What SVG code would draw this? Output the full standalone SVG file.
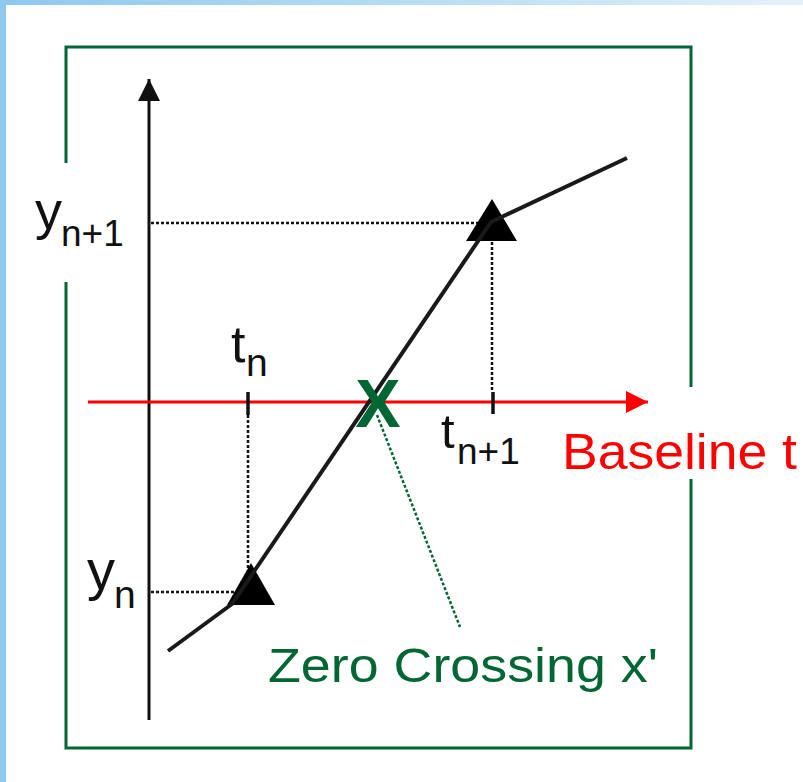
<svg xmlns="http://www.w3.org/2000/svg" width="803" height="782" viewBox="0 0 803 782">
<defs>
<linearGradient id="bg" x1="0" y1="0" x2="1" y2="0">
<stop offset="0" stop-color="#8ec8ee"/><stop offset="0.5" stop-color="#b5dcf4"/><stop offset="1" stop-color="#e4f1fa"/>
</linearGradient>
<marker id="ah" markerUnits="userSpaceOnUse" viewBox="0 0 22 22" refX="22" refY="11" markerWidth="22" markerHeight="22" orient="auto"><path d="M0,0 L22,11 L0,22 Z" fill="#ff0000"/></marker>
<marker id="ahk" markerUnits="userSpaceOnUse" viewBox="0 0 22 22" refX="22" refY="11" markerWidth="22" markerHeight="22" orient="auto"><path d="M0,0 L22,11 L0,22 Z" fill="#111"/></marker>
</defs>
<style>
.frame{stroke:#006633;stroke-width:3;fill:none}
.dash{stroke:#111;stroke-width:2.5;stroke-dasharray:3 2;fill:none}
.gdash{stroke:#006633;stroke-width:2.5;stroke-dasharray:3 2;fill:none}
.tick{stroke:#111;stroke-width:3.5}
.lbl{font-family:"Liberation Sans",Arial,sans-serif;fill:#111}
.tri{fill:#000}
</style>
<rect x="0" y="0" width="803" height="782" fill="url(#bg)"/>
<rect x="6" y="5" width="797" height="777" fill="#ffffff"/>
<g id="frame">
<path class="frame" d="M66,163 V47 H691 V387 M691,479 V748 H66 V282"/>
</g>
<g id="connectors">
<line x1="149" y1="720" x2="149" y2="79" stroke="#111" stroke-width="3" marker-end="url(#ahk)"/>
<line x1="88" y1="402" x2="648" y2="402" stroke="#ff0000" stroke-width="3" marker-end="url(#ah)"/>
<path class="dash" d="M151,223 H492 V392"/>
<path class="dash" d="M151,592 H248 M248,415 V572"/>
<line class="tick" x1="493" y1="392" x2="493" y2="414"/>
<line class="tick" x1="248" y1="392" x2="248" y2="415"/>
<line class="gdash" x1="377" y1="415" x2="460" y2="627"/>
</g>
<g id="triangles">
<polygon class="tri" points="492,199 517,241 466,241"/>
<polygon class="tri" points="251,563 275,605 227,605"/>
</g>
<g id="curve">
<polyline points="168,651 232,604 491,222 627,158" fill="none" stroke="#1a1a1a" stroke-width="4" stroke-linejoin="round"/>
</g>
<g id="zero-x">
<text x="378" y="427" text-anchor="middle" font-family="Liberation Sans,Arial,sans-serif" font-weight="bold" font-size="68" fill="#006633">X</text>
</g>
<g id="labels">
<text class="lbl" x="35" y="229" font-size="54">y</text>
<text class="lbl" x="61" y="246" font-size="37">n+1</text>
<text class="lbl" x="87" y="589" font-size="56">y</text>
<text class="lbl" x="114" y="608" font-size="39">n</text>
<text class="lbl" x="231" y="362" font-size="52">t</text>
<text class="lbl" x="246" y="376" font-size="39">n</text>
<text class="lbl" x="441" y="448" font-size="49">t</text>
<text class="lbl" x="457" y="464" font-size="37">n+1</text>
<text x="562" y="469" font-family="Liberation Sans,Arial,sans-serif" font-size="50" fill="#ff0000" textLength="235" lengthAdjust="spacingAndGlyphs">Baseline t</text>
<text x="268" y="682" font-family="Liberation Sans,Arial,sans-serif" font-size="49" fill="#006633" textLength="390" lengthAdjust="spacingAndGlyphs">Zero Crossing x'</text>
</g>
</svg>
